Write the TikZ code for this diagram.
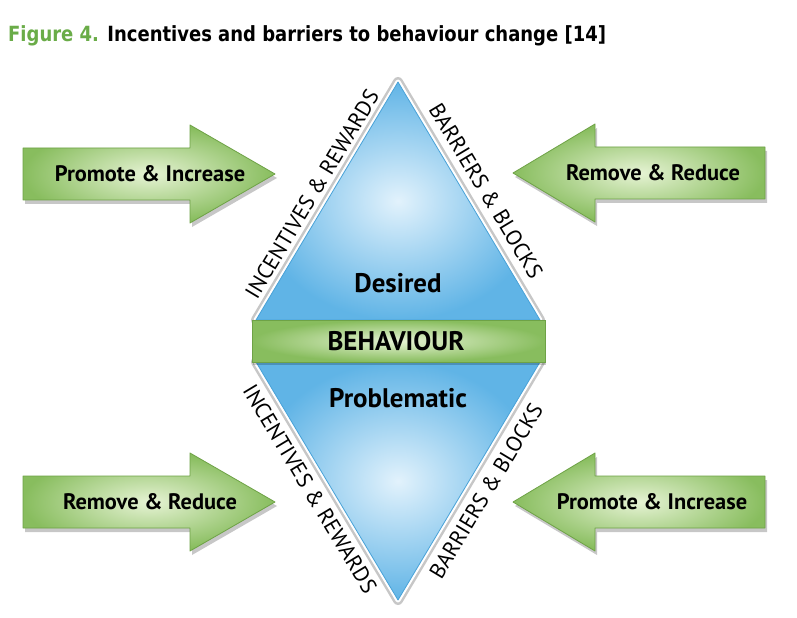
\documentclass[tikz,border=0pt]{standalone}
\usepackage{fontspec}
\setmainfont{PT Sans}
\newfontfamily\titlefont[FakeStretch=0.86]{DejaVu Sans}
\usetikzlibrary{shadows}

\definecolor{figgreen}{RGB}{106,172,72}
\definecolor{arrowgreen}{RGB}{136,189,94}
\definecolor{arrowlight}{RGB}{230,243,212}
\definecolor{arrowline}{RGB}{110,162,70}
\definecolor{skyblue}{RGB}{96,180,230}
\definecolor{skylight}{RGB}{226,242,252}
\definecolor{skyline}{RGB}{72,162,216}

\tikzset{
	arrowshape/.style = {draw = arrowline, line width = .8bp, line join = round,
		inner color = arrowlight, outer color = arrowgreen,
		drop shadow = {shadow xshift = 2bp, shadow yshift = -4bp, opacity = .22, fill = black}},
	arrowlabel/.style = {font = \bfseries\fontsize{22.5}{22.5}\selectfont, inner sep = 0pt},
	edgelabel/.style = {font = \fontsize{22}{22}\selectfont, inner sep = 0pt},
	midlabel/.style = {font = \bfseries\fontsize{27}{27}\selectfont, inner sep = 0pt},
	rim/.style = {line width = 10bp, draw = black!22, line join = round},
	rimwhite/.style = {line width = 5bp, draw = white, line join = round},
	trianglefill/.style = {draw = skyline, line width = .8bp, line join = round,
		inner color = skylight, outer color = skyblue}
}

\begin{document}
\begin{tikzpicture}[x = 1bp, y = -1bp]
	\useasboundingbox[fill = white] (0, 0) rectangle (797, 618);
	
	\node[anchor = base west, inner sep = 0pt, font = \titlefont\bfseries\fontsize{21}{21}\selectfont] (title) at (8, 42)
	{\textcolor{figgreen}{Figure 4.} Incentives and barriers to behaviour change [14]};
	
	% upper triangle
	\draw[rim] (398, 82) -- (540, 320) -- (256, 320) -- cycle;
	\draw[rimwhite] (398, 82) -- (540, 320) -- (256, 320) -- cycle;
	\path[trianglefill] (398, 82) -- (540, 320) -- (256, 320) -- cycle;
	% lower triangle
	\draw[rim] (398, 600) -- (540, 362) -- (256, 362) -- cycle;
	\draw[rimwhite] (398, 600) -- (540, 362) -- (256, 362) -- cycle;
	\path[trianglefill] (398, 600) -- (540, 362) -- (256, 362) -- cycle;
	% band
	\path[draw = arrowline, line width = .8bp, inner color = arrowlight, outer color = arrowgreen,
		drop shadow = {shadow xshift = 1bp, shadow yshift = -3bp, opacity = .2, fill = black}]
	(252, 320) rectangle (545, 362);
	
	% arrows
	\path[arrowshape] (23, 148) -- (190, 148) -- (190, 125) -- (275, 174) -- (190, 223) -- (190, 200) -- (23, 200) -- cycle;
	\path[arrowshape] (765, 147) -- (595, 147) -- (595, 124) -- (513, 173) -- (595, 222) -- (595, 199) -- (765, 199) -- cycle;
	\path[arrowshape] (23, 476) -- (190, 476) -- (190, 453) -- (275, 502) -- (190, 551) -- (190, 528) -- (23, 528) -- cycle;
	\path[arrowshape] (765, 476) -- (595, 476) -- (595, 453) -- (513, 502) -- (595, 551) -- (595, 528) -- (765, 528) -- cycle;
	
	\node[arrowlabel] (promoteup) at (150, 174) {Promote \& Increase};
	\node[arrowlabel] (removeup) at (653, 173) {Remove \& Reduce};
	\node[arrowlabel] (removedown) at (150, 502) {Remove \& Reduce};
	\node[arrowlabel] (promotedown) at (652, 502) {Promote \& Increase};
	
	\node[midlabel] (desired) at (398, 283) {Desired};
	\node[midlabel] (behaviour) at (396, 341) {BEHAVIOUR};
	\node[midlabel] (problematic) at (398, 398) {Problematic};
	
	\node[edgelabel, rotate = 59] (incentivesup) at (312, 194) {INCENTIVES \& REWARDS};
	\node[edgelabel, rotate = -59] (barriersup) at (486, 191) {BARRIERS \& BLOCKS};
	\node[edgelabel, rotate = -59] (incentivesdown) at (310, 489) {INCENTIVES \& REWARDS};
	\node[edgelabel, rotate = 59] (barriersdown) at (486, 491) {BARRIERS \& BLOCKS};
\end{tikzpicture}
\end{document}
